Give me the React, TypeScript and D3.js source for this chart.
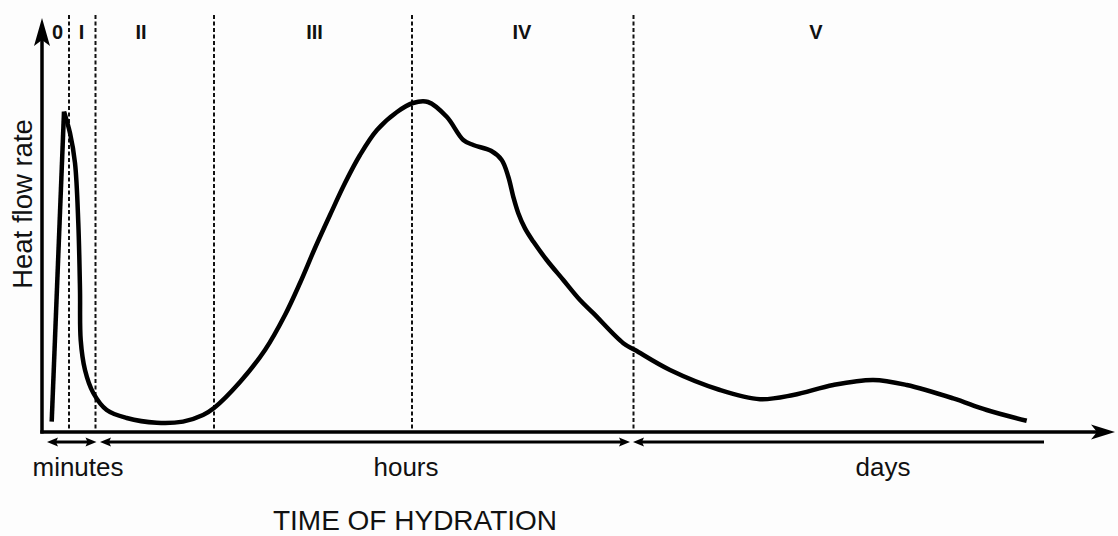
import React from "react";
import * as d3 from "d3";

const W = 1118;
const H = 536;

// Phase boundaries (time, arbitrary units) and phase labels
const phaseBoundaries = [2.7, 5.35, 17.2, 37.0, 59.15];
const phaseLabels = ["0", "I", "II", "III", "IV", "V"];
const phaseLabelX = [1.55, 3.95, 9.9, 27.25, 48.0, 77.4];

// Heat flow curve (time units, heat flow units)
const timeX = [
  0.97, 2.2, 2.8, 3.3, 3.63, 3.8, 3.87, 4.3, 5.13, 6.47, 8.47, 11.47, 14.1, 16.1, 17.2,
  19.8, 22.3, 24.3, 25.8, 27.3, 28.8, 30.3, 31.8, 33.5, 35.5, 37.1, 38.6, 40.47,
  42.13, 43.13, 44.9, 45.97, 46.63, 47.13, 47.63, 48.3, 49.13, 50.47, 52.13, 53.8, 55.13,
  58.13, 59.3, 62.8, 67.8, 71.8, 75.13, 79.13, 83.13, 86.47, 91.13, 94.47, 98.47,
];
const heatFlow = [
  2.6, 80.1, 74.75, 67.25, 52.25, 35.5, 23, 15.5, 9.75, 5.5, 3.5, 2.3, 2.6, 4.25, 6.0,
  12.5, 20.5, 29.25, 37.25, 46.0, 54.25, 62.25, 69.25, 75.5, 80.0, 82.25, 82.5, 78.8,
  73, 71.75, 70.3, 68, 63.8, 58.8, 54.7, 50.9, 47.6, 43, 38, 33, 29.7,
  22.2, 20.5, 15.5, 10.5, 8.2, 9.25, 11.75, 13, 11.75, 8.4, 5.5, 2.8,
];

// Time-span arrows under the axis
const spanLabels = ["minutes", "hours", "days"];
const spanStart = [0.5, 5.8, 59.1];
const spanEnd = [5.45, 58.8, 100.2];
const spanStartHead = [true, true, true];
const spanEndHead = [true, true, false];
const spanLabelX = [3.6, 36.4, 84.1];

const xTitle = "TIME OF HYDRATION";
const yTitle = "Heat flow rate";

const FONT = "'Liberation Sans', Arial, Helvetica, sans-serif";

export default function App() {
  const x = d3.scaleLinear().domain([0, 107.3]).range([42, 1115]);
  const y = d3.scaleLinear().domain([0, 100]).range([432, 32]);

  const x0 = x(0);
  const xEnd = x(107.3);
  const y0 = y(0);
  const yTop = y(103.5);

  const pts: [number, number][] = timeX.map((t, i) => [t, heatFlow[i]]);
  const spike = pts.slice(0, 2);
  const rest = pts.slice(1);
  const lineLin = d3
    .line<[number, number]>()
    .x((d) => x(d[0]))
    .y((d) => y(d[1]));
  const lineCurve = d3
    .line<[number, number]>()
    .x((d) => x(d[0]))
    .y((d) => y(d[1]))
    .curve(d3.curveCatmullRom.alpha(0.5));

  const spanY = y0 + 10;

  const headPath = (tipX: number, tipY: number, dir: number, len: number, hw: number, notch: number) =>
    `M${tipX},${tipY} L${tipX - dir * len},${tipY - hw} L${tipX - dir * (len - notch)},${tipY} L${tipX - dir * len},${tipY + hw} Z`;

  return (
    <svg
      width={W}
      height={H}
      style={{ position: "absolute", left: 0, top: 0, background: "#fdfdfd" }}
    >
      <rect x={0} y={0} width={W} height={H} fill="#fdfdfd" />
      {/* phase boundaries */}
      {phaseBoundaries.map((b, i) => (
        <line
          key={"b" + i}
          x1={x(b)}
          x2={x(b)}
          y1={15}
          y2={y0 - 2}
          stroke="#111"
          strokeWidth={2}
          strokeDasharray="4,2.5"
        />
      ))}
      {/* phase labels */}
      {phaseLabels.map((l, i) => (
        <text
          key={"p" + i}
          x={x(phaseLabelX[i])}
          y={38.5}
          textAnchor="middle"
          fontFamily={FONT}
          fontWeight="bold"
          fontSize={20}
          fill="#111"
        >
          {l}
        </text>
      ))}
      {/* axes */}
      <line x1={x0} x2={x0} y1={y0 + 1.5} y2={yTop + 12} stroke="#000" strokeWidth={3.5} />
      <path d={`M${x0},${yTop} L${x0 - 8},${yTop + 28} L${x0},${yTop + 22} L${x0 + 8},${yTop + 28} Z`} fill="#000" />
      <line x1={x0 - 1.75} x2={xEnd - 12} y1={y0} y2={y0} stroke="#000" strokeWidth={3.5} />
      <path d={headPath(xEnd, y0, 1, 24, 7.5, 6)} fill="#000" />

      {/* curve */}
      <path d={lineLin(spike) || ""} fill="none" stroke="#000" strokeWidth={4.5} strokeLinejoin="miter" />
      <path d={lineCurve(rest) || ""} fill="none" stroke="#000" strokeWidth={4.5} strokeLinejoin="round" strokeLinecap="butt" />

      {/* span arrows */}
      {spanLabels.map((l, i) => {
        const a = x(spanStart[i]);
        const b = x(spanEnd[i]);
        return (
          <g key={"s" + i}>
            <line
              x1={spanStartHead[i] ? a + 6 : a}
              x2={spanEndHead[i] ? b - 6 : b}
              y1={spanY}
              y2={spanY}
              stroke="#000"
              strokeWidth={2.8}
            />
            {spanStartHead[i] && <path d={headPath(a, spanY, -1, 11, 4.5, 2)} fill="#000" />}
            {spanEndHead[i] && <path d={headPath(b, spanY, 1, 11, 4.5, 2)} fill="#000" />}
            <text
              x={x(spanLabelX[i])}
              y={476}
              textAnchor="middle"
              fontFamily={FONT}
              fontSize={26}
              fill="#111"
            >
              {l}
            </text>
          </g>
        );
      })}

      {/* titles */}
      <text x={x(37.3)} y={530} textAnchor="middle" fontFamily={FONT} fontSize={28} fill="#111">
        {xTitle}
      </text>
      <text
        transform={`translate(32, ${y(57)}) rotate(-90)`}
        textAnchor="middle"
        fontFamily={FONT}
        fontSize={27.5}
        fill="#111"
      >
        {yTitle}
      </text>
    </svg>
  );
}
